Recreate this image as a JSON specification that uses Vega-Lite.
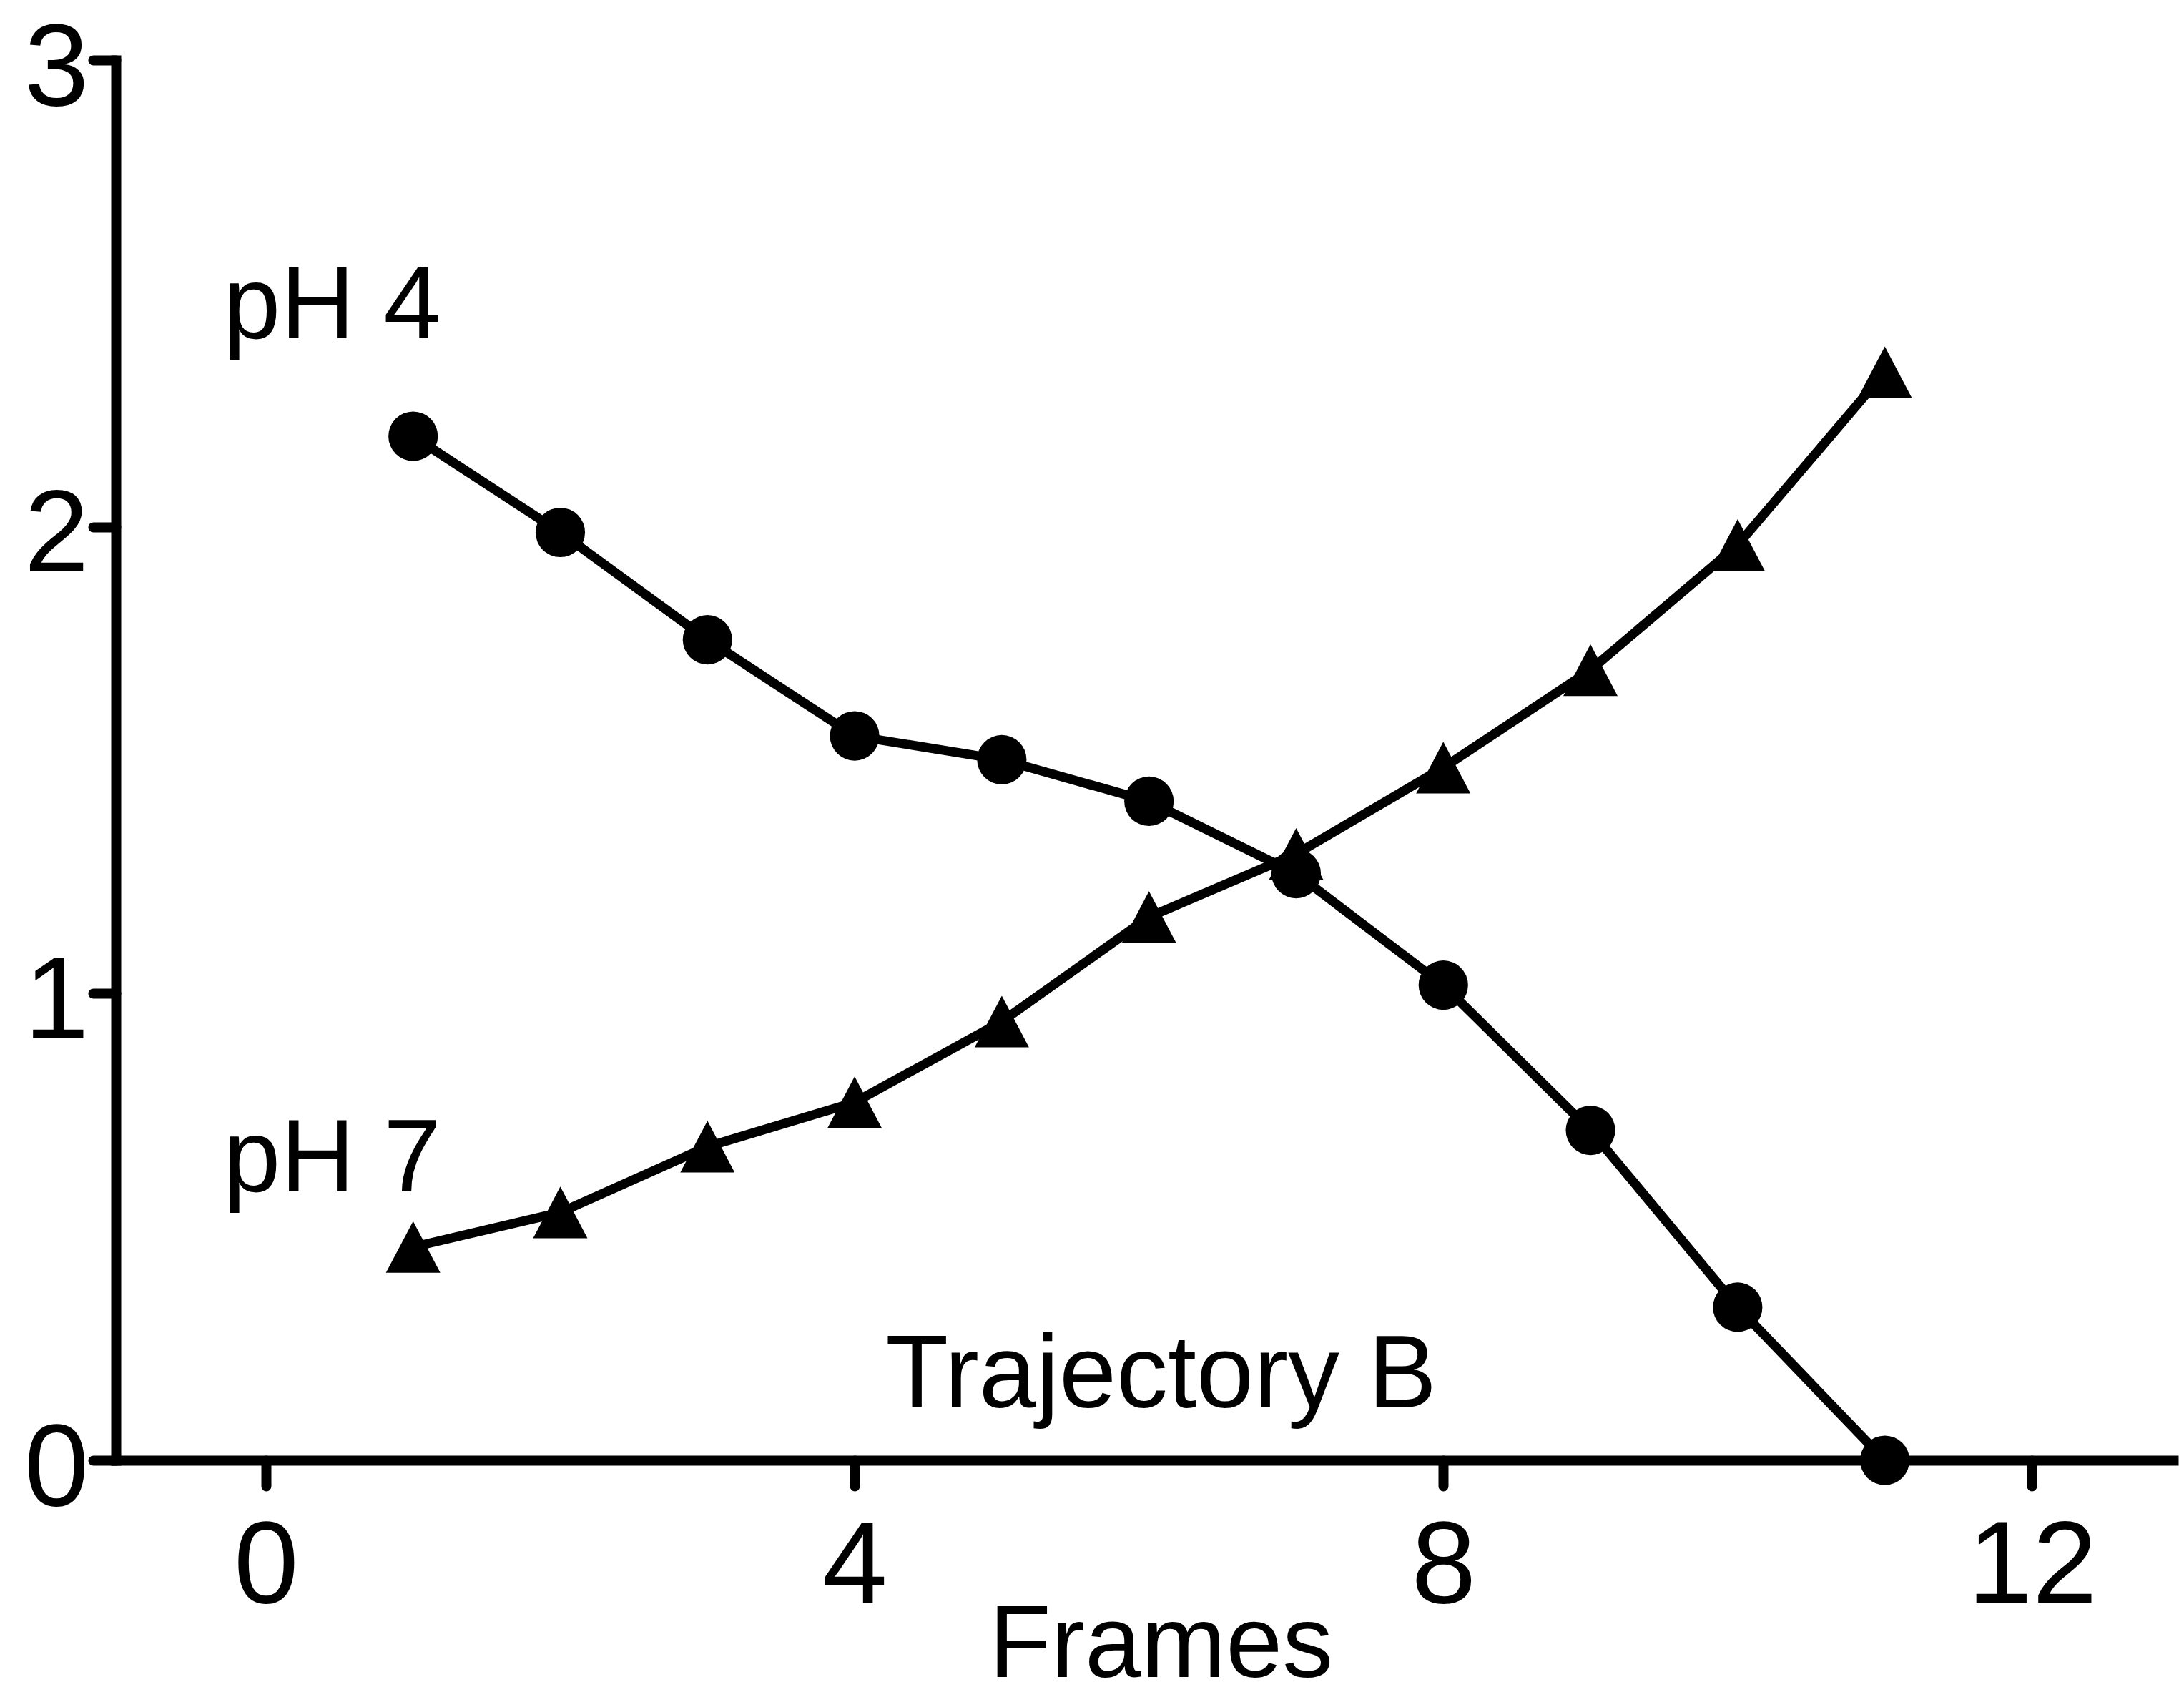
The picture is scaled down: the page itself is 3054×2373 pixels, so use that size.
{
  "$schema": "https://vega.github.io/schema/vega-lite/v6.json",
  "autosize": "none",
  "padding": {"left": 162, "top": 84, "right": 15, "bottom": 331},
  "width": 2877,
  "height": 1958,
  "background": "white",
  "config": {
    "view": {"stroke": null},
    "font": "Liberation Sans",
    "axis": {
      "grid": false,
      "domainColor": "black",
      "domainWidth": 14,
      "domainCap": "square",
      "tickColor": "black",
      "tickWidth": 14,
      "tickCap": "round",
      "labelColor": "black",
      "labelFont": "Liberation Sans",
      "labelFontSize": 163,
      "labelLimit": 0,
      "labelOverlap": false,
      "titleFont": "Liberation Sans",
      "titleColor": "black",
      "titleFontWeight": "normal"
    }
  },
  "datasets": {
    "series": [
      {"frame": 1, "value": 2.194, "series": "pH 4"},
      {"frame": 2, "value": 1.988, "series": "pH 4"},
      {"frame": 3, "value": 1.758, "series": "pH 4"},
      {"frame": 4, "value": 1.552, "series": "pH 4"},
      {"frame": 5, "value": 1.501, "series": "pH 4"},
      {"frame": 6, "value": 1.412, "series": "pH 4"},
      {"frame": 7, "value": 1.257, "series": "pH 4"},
      {"frame": 8, "value": 1.018, "series": "pH 4"},
      {"frame": 9, "value": 0.707, "series": "pH 4"},
      {"frame": 10, "value": 0.328, "series": "pH 4"},
      {"frame": 11, "value": 0.0, "series": "pH 4"},
      {"frame": 1, "value": 0.457, "series": "pH 7"},
      {"frame": 2, "value": 0.531, "series": "pH 7"},
      {"frame": 3, "value": 0.672, "series": "pH 7"},
      {"frame": 4, "value": 0.767, "series": "pH 7"},
      {"frame": 5, "value": 0.94, "series": "pH 7"},
      {"frame": 6, "value": 1.164, "series": "pH 7"},
      {"frame": 7, "value": 1.299, "series": "pH 7"},
      {"frame": 8, "value": 1.484, "series": "pH 7"},
      {"frame": 9, "value": 1.693, "series": "pH 7"},
      {"frame": 10, "value": 1.961, "series": "pH 7"},
      {"frame": 11, "value": 2.331, "series": "pH 7"}
    ],
    "notes": [
      {"label": "pH 4", "frame": -0.29, "value": 2.404},
      {"label": "pH 7", "frame": -0.29, "value": 0.576},
      {"label": "Trajectory B", "frame": 4.21, "value": 0.113}
    ]
  },
  "encoding": {
    "x": {
      "field": "frame",
      "type": "quantitative",
      "scale": {"domain": [-1.02, 12.96], "nice": false, "zero": false},
      "axis": {
        "values": [0, 4, 8, 12],
        "title": "Frames",
        "tickSize": 36,
        "labelPadding": 162,
        "labelBaseline": "alphabetic",
        "titleFontSize": 142,
        "titleBaseline": "alphabetic",
        "titleAlign": "center",
        "titleX": 1461,
        "titleY": 302
      }
    },
    "y": {
      "field": "value",
      "type": "quantitative",
      "scale": {"domain": [0, 3], "nice": false},
      "axis": {
        "values": [0, 1, 2, 3],
        "title": null,
        "tickSize": 32,
        "labelPadding": 6,
        "labelBaseline": "alphabetic",
        "labelOffset": 62
      }
    }
  },
  "layer": [
    {
      "data": {"name": "series"},
      "mark": {"type": "line", "color": "black", "strokeWidth": 13},
      "encoding": {"detail": {"field": "series"}}
    },
    {
      "data": {"name": "series"},
      "transform": [{"filter": "datum.series === 'pH 7'"}],
      "mark": {"type": "point", "shape": "M0,-0.95L-1,0.95L1,0.95Z", "filled": true, "color": "black", "opacity": 1, "size": 5776}
    },
    {
      "data": {"name": "series"},
      "transform": [{"filter": "datum.series === 'pH 4'"}],
      "mark": {"type": "point", "shape": "circle", "filled": true, "color": "black", "opacity": 1, "size": 4780}
    },
    {
      "data": {"name": "notes"},
      "mark": {"type": "text", "align": "left", "baseline": "alphabetic", "fontSize": 144, "font": "Liberation Sans", "color": "black"},
      "encoding": {"text": {"field": "label"}}
    }
  ]
}
